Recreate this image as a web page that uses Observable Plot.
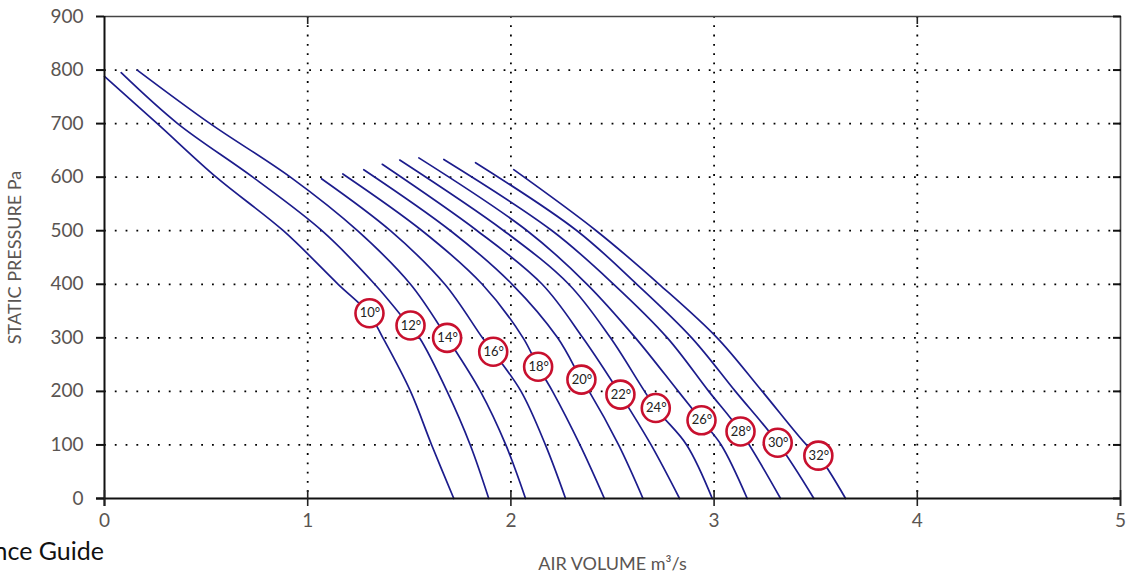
<!DOCTYPE html>
<html>
<head>
<meta charset="utf-8">
<script src="https://cdn.jsdelivr.net/npm/d3@7"></script>
<script src="https://cdn.jsdelivr.net/npm/@observablehq/plot@0.6"></script>
<style>
  html, body { margin: 0; padding: 0; background: #fff; overflow: hidden; }
  body { position: relative; width: 1129px; height: 580px; }
  #chart { position: absolute; left: 0; top: 0; }
  #guide { position: absolute; right: 1025px; top: 535px; font-family: Lato, "Noto Sans", sans-serif; font-size: 25px; color: #111; white-space: nowrap; }
</style>
</head>
<body>
<div id="chart"></div>
<div id="guide">Performance Guide</div>
<script>
// ---- data (air volume m3/s, static pressure Pa) ----
const angles = [10, 12, 14, 16, 18, 20, 22, 24, 26, 28, 30, 32];
const c10 = [[0,788],[0.26,700],[0.55,600],[0.88,500],[1.15,400],[1.30,346],[1.37,300],[1.506,200],[1.61,100],[1.719,0]];
const c12 = [[0.082,795],[0.36,700],[0.73,600],[1.07,500],[1.33,400],[1.50,323],[1.55,300],[1.686,200],[1.80,100],[1.891,0]];
const c14 = [[0.161,800],[0.52,700],[0.915,600],[1.245,500],[1.506,400],[1.686,300],[1.85,200],[1.975,100],[2.072,0]];
const c16 = [[1.068,597],[1.407,500],[1.675,400],[1.86,300],[1.913,274],[2.05,200],[2.17,100],[2.269,0]];
const c18 = [[1.173,606],[1.563,500],[1.859,400],[2.06,300],[2.134,246],[2.205,200],[2.34,100],[2.46,0]];
const c20 = [[1.276,614],[1.703,500],[2.006,400],[2.23,300],[2.347,222],[2.385,200],[2.53,100],[2.65,0]];
const c22 = [[1.367,624],[1.834,500],[2.154,400],[2.354,300],[2.539,194],[2.69,100],[2.83,0]];
const c24 = [[1.453,632],[1.965,500],[2.285,400],[2.49,300],[2.713,169],[2.865,100],[2.991,0]];
const c26 = [[1.547,636],[2.08,500],[2.375,400],[2.613,300],[2.824,200],[2.938,146],[3.035,100],[3.163,0]];
const c28 = [[1.67,633],[2.203,500],[2.506,400],[2.77,300],[2.974,200],[3.13,125],[3.327,0]];
const c30 = [[1.826,627],[2.325,500],[2.62,400],[2.89,300],[3.105,200],[3.313,104],[3.491,0]];
const c32 = [[2.014,614],[2.42,500],[2.73,400],[3.015,300],[3.237,200],[3.455,100],[3.513,80],[3.647,0]];
const curves = [c10, c12, c14, c16, c18, c20, c22, c24, c26, c28, c30, c32];
// label circle positions on each curve
const labelX = [1.304, 1.506, 1.686, 1.913, 2.134, 2.347, 2.539, 2.713, 2.938, 3.130, 3.313, 3.513];
const labelY = [346, 323, 300, 274, 246, 222, 194, 169, 146, 125, 104, 80];
const xTicks = [0, 1, 2, 3, 4, 5];
const yTicks = [0, 100, 200, 300, 400, 500, 600, 700, 800, 900];
const xGrid = [1, 2, 3, 4];
const yGrid = [100, 200, 300, 400, 500, 600, 700, 800];

// ---- tables ----
const rows = curves.flatMap((c, i) => c.map(([x, y]) => ({angle: angles[i], x, y})));
const labels = angles.map((a, i) => ({angle: a, x: labelX[i], y: labelY[i]}));

const font = "Lato, 'Noto Sans', sans-serif";
const gray = "#5a5552";
const blue = "#1c1c8c";
const red = "#c8102e";

const chart = Plot.plot({
  width: 1129,
  height: 580,
  marginLeft: 104,
  marginRight: 9,
  marginTop: 16,
  marginBottom: 82,
  style: {fontFamily: font, background: "#fff", overflow: "visible"},
  x: {domain: [0, 5]},
  y: {domain: [0, 900]},
  marks: [
    Plot.gridY(yGrid, {stroke: "#000", strokeOpacity: 1, strokeWidth: 1.8, strokeDasharray: "1.8,9"}),
    Plot.gridX(xGrid, {stroke: "#000", strokeOpacity: 1, strokeWidth: 1.8, strokeDasharray: "1.8,7.5"}),
    Plot.line(rows, {x: "x", y: "y", z: "angle", stroke: blue, strokeWidth: 1.7, curve: "catmull-rom"}),
    // frame
    Plot.ruleY([900], {stroke: "#444", strokeWidth: 1.6}),
    Plot.ruleX([5], {stroke: "#444", strokeWidth: 1.6, insetBottom: -8}),
    Plot.ruleX([0], {stroke: "#111", strokeWidth: 2, insetBottom: -8}),
    Plot.ruleY([0], {stroke: "#111", strokeWidth: 2.2, insetLeft: -8}),
    // ticks
    Plot.axisY(yTicks, {anchor: "left", tickSize: 8, strokeWidth: 2, stroke: "#111", text: null, label: null}),
    Plot.axisY(yTicks, {anchor: "right", tickSize: 8, dx: -8, strokeWidth: 2, stroke: "#111", text: null, label: null}),
    Plot.axisX(xTicks, {anchor: "bottom", tickSize: 16, dy: -8, strokeWidth: 1.6, stroke: "#222", text: null, label: null}),
    Plot.axisX([1, 4], {anchor: "top", tickSize: 7, dy: 7, strokeWidth: 1.6, stroke: "#222", text: null, label: null}),
    // tick labels + axis titles
    Plot.axisY(yTicks, {anchor: "left", tickSize: 0, tickPadding: 21, fontSize: 19, fill: gray, tickFormat: d => String(d),
      label: "STATIC PRESSURE Pa", labelAnchor: "center", labelArrow: "none", labelOffset: 96}),
    Plot.axisX(xTicks, {anchor: "bottom", tickSize: 0, tickPadding: 15, fontSize: 19, fill: gray, tickFormat: d => String(d),
      label: "AIR VOLUME m³/s", labelAnchor: "center", labelArrow: "none", labelOffset: 71}),
    // angle labels
    Plot.dot(labels, {x: "x", y: "y", r: 14, fill: "#fff", stroke: red, strokeWidth: 2.6}),
    Plot.text(labels, {x: "x", y: "y", text: d => d.angle + "°", fontSize: 13, fill: "#222", dx: 0.5})
  ]
});
document.getElementById("chart").append(chart);
// axis title font sizes
chart.querySelectorAll("g[aria-label='y-axis label'] text, g[aria-label='x-axis label'] text").forEach(t => {
  t.setAttribute("font-size", "18");
});
</script>
</body>
</html>
